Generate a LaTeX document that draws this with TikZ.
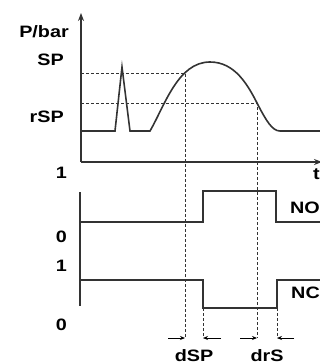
\documentclass[tikz,border=0pt]{standalone}
\usepackage{fontspec}
\setmainfont{Liberation Sans}[FakeStretch=1.2]
\usetikzlibrary{calc, arrows.meta}

\begin{document}
\begin{tikzpicture}[x=1pt, y=-1pt,
		font=\fontsize{16.5}{18}\selectfont\bfseries,
		signal/.style={line width=1.6pt, black!80},
		guide/.style={line width=0.7pt, black!80, dash pattern=on 3pt off 2pt},
		dim/.style={-{Stealth[length=5pt, width=4pt]}, line width=0.9pt}]
		\useasboundingbox (0,0) rectangle (320,363);
		
		\def\base{131};
		\def\sp{73};
		\def\rsp{103};
		\def\low{338};
		
		\coordinate (origin) at (81,162);
		\coordinate (sp on) at (185,\sp);
		\coordinate (rsp off) at (257,\rsp);
		\coordinate (no on) at (203,308);
		\coordinate (no off) at (277,308);
		
		% pressure
		\draw [signal, -{Stealth[length=8pt, width=6pt]}] (origin) -- (81,13);
		\draw [signal, -{Stealth[length=8pt, width=6pt]}] (origin) -- (322,162);
		
		\draw [guide] (81,\sp) -- (sp on) -- (sp on |- 0,\low);
		\draw [guide] (81,\rsp) -- (rsp off) -- (rsp off |- 0,\low);
		\draw [guide] (no on) -- (no on |- 0,\low);
		\draw [guide] (no off) -- (no off |- 0,\low);
		
		\draw [signal] (81,\base) -- (115,\base) -- (122,67) -- (130,\base) -- (150,\base)
			.. controls (165,105) and (178,62) .. (210,62)
			.. controls (235,62) and (248,85) .. (258,105)
			.. controls (266,120) and (272,\base) .. (280,\base) -- (322,\base);
		
		\node (pbar) [anchor = east, inner sep = 0] at (69,32) {P/bar};
		\node (sp label) [anchor = east, inner sep = 0] at (64,60) {SP};
		\node (rsp label) [anchor = east, inner sep = 0] at (64,117) {rSP};
		\node (t label) [anchor = east, inner sep = 0] at (320,174) {t};
		
		% switch outputs
		\draw [signal] (80,192) -- (80,306);
		\draw [signal] (80,222) -- (203,222) -- (203,191) -- (276,191) -- (276,222) -- (322,222);
		\draw [signal] (80,280) -- (no on |- 0,280) -- (no on) -- (no off) -- (no off |- 0,280) -- (322,280);
		
		\node (one no) [anchor = east, inner sep = 0] at (67,173) {1};
		\node (zero no) [anchor = east, inner sep = 0] at (67,237) {0};
		\node (one nc) [anchor = east, inner sep = 0] at (67,266) {1};
		\node (zero nc) [anchor = east, inner sep = 0] at (67,325) {0};
		
		\node (no label) [anchor = east, inner sep = 0] at (320,208) {NO};
		\node (nc label) [anchor = east, inner sep = 0] at (320,293) {NC};
		
		% delays
		\draw [dim] (168,\low) -- (sp on |- 0,\low);
		\draw [dim] (221,\low) -- (no on |- 0,\low);
		\draw [dim] (240,\low) -- (rsp off |- 0,\low);
		\draw [dim] (294,\low) -- (no off |- 0,\low);
		
		\node (dsp) [anchor = base, inner sep = 0] at (194,361) {dSP};
		\node (drs) [anchor = base, inner sep = 0] at (267,361) {drS};
	\end{tikzpicture}
\end{document}
